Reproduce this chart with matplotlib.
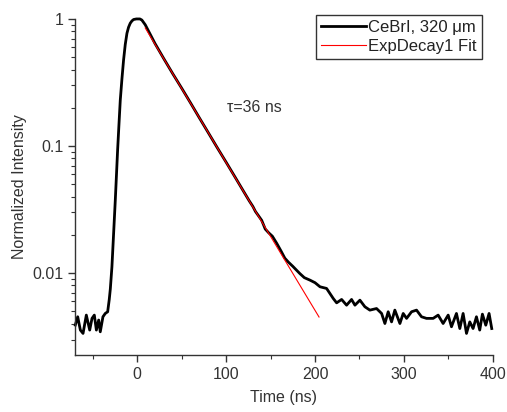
import matplotlib.pyplot as plt
from matplotlib.ticker import LogLocator, MultipleLocator, NullFormatter, FixedLocator, FixedFormatter

plt.rcParams['font.family'] = ['Liberation Sans', 'DejaVu Sans']

# measured decay trace (time in ns, normalized intensity)
time_ns = [-69.7, -67, -64, -61, -57.3, -53.5, -50.9, -48.3, -46, -43.4, -41.6,
           -38.6, -36, -33.3, -31.5, -30.3, -28.5, -26.6, -24.7, -23.4, -22.1,
           -20.6, -19.1, -17.2, -15.4, -13.5, -11.6, -9.8, -7.9, -6, -4.1, -1,
           3, 5.2, 9, 20, 30, 40, 50, 60, 70, 80, 90, 100,
           110, 120, 126, 130, 133, 136, 140, 144, 148, 152, 157, 162, 166, 170,
           175, 180, 183, 188, 194.3, 200, 205.6, 213, 220.5, 224.3, 229.9,
           235.5, 241.1, 244.9, 250.5, 256.1, 261.7, 269.2, 274.9, 278.6, 282.3,
           286.1, 289.8, 295.5, 299.2, 303, 308.6, 314.2, 319.8, 325.4, 332.9,
           338.5, 344.1, 349.8, 353.5, 359.1, 362.9, 366.6, 370.4, 374.1, 377.8,
           381.6, 385.3, 388.3, 392.1, 395.8, 398.8]
intensity = [0.0039, 0.00453, 0.00356, 0.00335, 0.00467, 0.00356, 0.0044, 0.00467,
             0.00356, 0.00427, 0.00345, 0.00453, 0.00481, 0.00496, 0.0062, 0.0075,
             0.0112, 0.0205, 0.0376, 0.059, 0.093, 0.147, 0.23, 0.34, 0.475,
             0.63, 0.771, 0.86, 0.925, 0.965, 0.99, 1.0, 1.0,
             0.98, 0.9, 0.64, 0.485, 0.37, 0.285, 0.218, 0.166, 0.127, 0.097,
             0.0745, 0.057, 0.0435, 0.037, 0.0335, 0.0305, 0.0285, 0.026, 0.0222,
             0.0207, 0.0195, 0.0171, 0.0148, 0.0131, 0.0122, 0.0113, 0.0104,
             0.0099, 0.0092, 0.0088, 0.0084, 0.0078, 0.00757, 0.00631, 0.00583,
             0.0062, 0.00559, 0.0062, 0.00559, 0.00612, 0.00543, 0.00511,
             0.00526, 0.00481, 0.00401, 0.00496, 0.00413, 0.00511, 0.00401,
             0.00481, 0.0044, 0.00496, 0.00511, 0.00453, 0.0044, 0.0044, 0.00467,
             0.00401, 0.00467, 0.00378, 0.00481, 0.00366, 0.00481, 0.00335,
             0.00413, 0.00366, 0.00453, 0.00356, 0.00475, 0.00389, 0.00481,
             0.00366]

# single exponential fit
fit_time = [9, 20, 40, 60, 80, 100, 120, 140, 160, 180, 204.5]
fit_intensity = [0.849, 0.632, 0.370, 0.217, 0.127, 0.0741, 0.0434, 0.0254,
                 0.01486, 0.00869, 0.00451]

x_ticks = [0, 100, 200, 300, 400]
y_ticks = [0.01, 0.1, 1]
y_tick_labels = ['0.01', '0.1', '1']

fig = plt.figure(figsize=(5.07, 4.12), dpi=100)
ax = fig.add_axes([0.148, 0.138, 0.824, 0.816])

ax.plot(time_ns, intensity, color='black', lw=2.0, label='CeBrI, 320 \u03bcm',
        zorder=2, clip_on=False)
ax.plot(fit_time, fit_intensity, color='red', lw=0.8, label='ExpDecay1 Fit', zorder=3)

ax.set_yscale('log')
ax.set_xlim(-70, 400)
ax.set_ylim(0.00226, 1.0)

for s in ['top', 'right']:
    ax.spines[s].set_visible(False)
for s in ['left', 'bottom']:
    ax.spines[s].set_color('#333333')
    ax.spines[s].set_linewidth(1.0)

ax.xaxis.set_major_locator(FixedLocator(x_ticks))
ax.xaxis.set_minor_locator(MultipleLocator(50))
ax.yaxis.set_major_locator(FixedLocator(y_ticks))
ax.yaxis.set_major_formatter(FixedFormatter(y_tick_labels))
ax.yaxis.set_minor_locator(LogLocator(base=10, subs=range(2, 10)))
ax.yaxis.set_minor_formatter(NullFormatter())
ax.tick_params(which='major', direction='out', length=5, width=1, colors='#333333',
               labelsize=11.5, labelcolor='#333333')
ax.tick_params(which='minor', direction='out', length=3, width=0.8, colors='#333333')

ax.set_xlabel('Time (ns)', fontsize=11.5, color='#333333', labelpad=6)
ax.set_ylabel('Normalized Intensity', fontsize=11.5, color='#333333', labelpad=4)

ax.text(101, 0.2, '\u03c4=36 ns', fontsize=11.5, color='#333333', va='center')

leg = ax.legend(loc='upper right', bbox_to_anchor=(0.973, 1.012), fontsize=12,
                frameon=True, fancybox=False, edgecolor='black', handlelength=2.7,
                borderpad=0.3, labelspacing=0.25, handletextpad=0.15, borderaxespad=0)
leg.get_frame().set_linewidth(1.0)
for t in leg.get_texts():
    t.set_color('#222222')

fig.savefig('out.png', dpi=100)
